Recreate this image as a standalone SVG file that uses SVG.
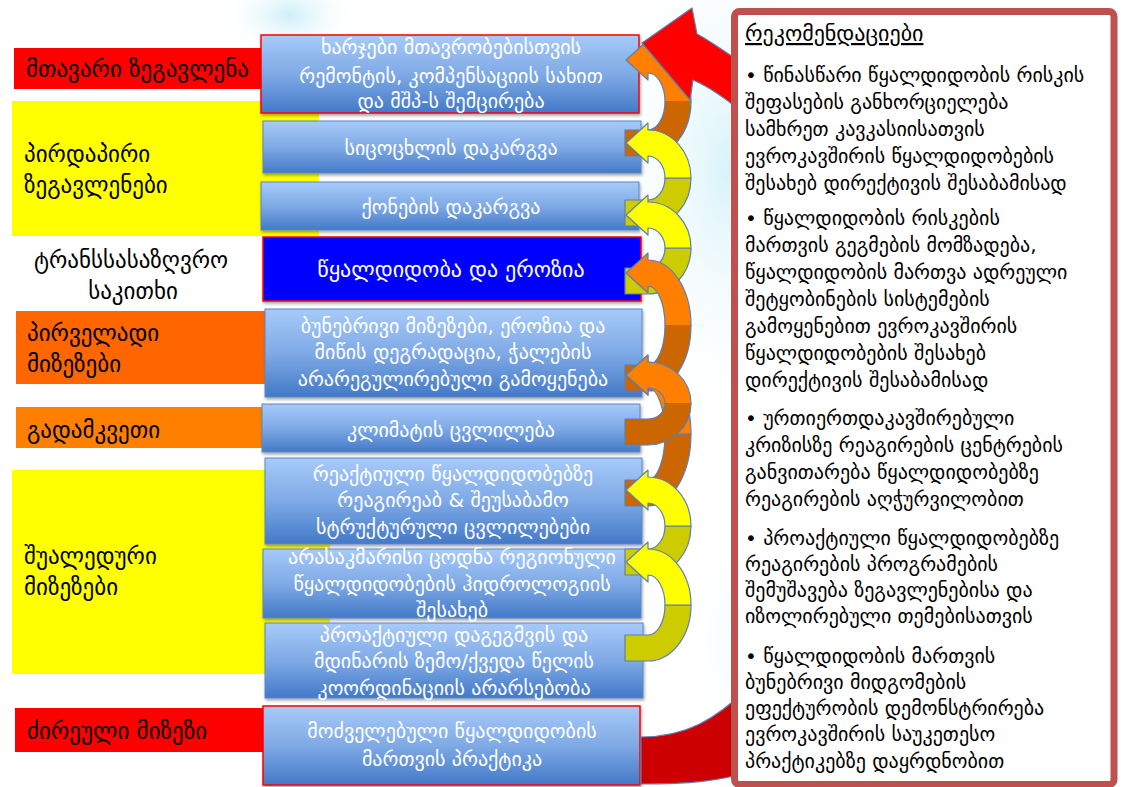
<svg xmlns="http://www.w3.org/2000/svg" width="1126" height="787" viewBox="0 0 1126 787">
<defs>
<linearGradient id="boxg" x1="0" y1="0" x2="0" y2="1">
<stop offset="0" stop-color="#A7CAF9"/>
<stop offset="0.5" stop-color="#7FAAE6"/>
<stop offset="1" stop-color="#4379C8"/>
</linearGradient>
<radialGradient id="glow" cx="0.5" cy="0.5" r="0.5">
<stop offset="0" stop-color="#CDEFF8"/>
<stop offset="1" stop-color="#FFFFFF" stop-opacity="0"/>
</radialGradient>
<filter id="sh" x="-5%" y="-10%" width="110%" height="130%">
<feDropShadow dx="1" dy="2" stdDeviation="1.5" flood-color="#000" flood-opacity="0.35"/>
</filter>
<style>
.lbl{font-family:"DejaVu Sans",sans-serif;font-size:23px;fill:#000}
.bx{fill:url(#boxg);stroke:#5A88C6;stroke-width:1;filter:url(#sh)}
.bxr{fill:url(#boxg);stroke:#FF0000;stroke-width:1.5;filter:url(#sh)}
.bt{font-family:"DejaVu Sans",sans-serif;font-size:20px;fill:#fff;text-anchor:middle}
.pt{font-family:"DejaVu Sans",sans-serif;font-size:20px;fill:#000}
.rb{stroke:#5B7FB5;stroke-width:1.2;stroke-linejoin:round}
.yf{fill:#FFFF00}.yb{fill:#CCCC00}.of{fill:#FF8000}.ob{fill:#CC6600}
</style>
</defs>
<rect width="1126" height="787" fill="#fff"/>
<ellipse cx="290" cy="15" rx="70" ry="45" fill="url(#glow)"/>
<ellipse cx="730" cy="170" rx="130" ry="260" fill="url(#glow)" opacity="0.8"/>
<ellipse cx="760" cy="640" rx="70" ry="120" fill="url(#glow)" opacity="0.6"/>

<g id="labels">
<g id="lbl-main"><rect x="14" y="48" width="248" height="41" fill="#FF0000"/><text class="lbl" x="26" y="77">მთავარი ზეგავლენა</text></g>
<g id="lbl-direct"><rect x="12" y="101" width="307" height="135" fill="#FFFF00"/><text class="lbl" x="24" y="162">პირდაპირი</text><text class="lbl" x="24" y="193">ზეგავლენები</text></g>
<g id="lbl-trans"><text class="lbl" x="131" y="268" text-anchor="middle">ტრანსსასაზღვრო</text><text class="lbl" x="133" y="299" text-anchor="middle">საკითხი</text></g>
<g id="lbl-primary"><rect x="16" y="311" width="249" height="73" fill="#FF6600"/><text class="lbl" x="27" y="341">პირველადი</text><text class="lbl" x="27" y="372">მიზეზები</text></g>
<g id="lbl-cross"><rect x="16" y="407" width="246" height="41" fill="#FF8000"/><text class="lbl" x="27" y="438">გადამკვეთი</text></g>
<g id="lbl-inter"><rect x="12" y="470" width="318" height="204" fill="#FFFF00"/><text class="lbl" x="24" y="564">შუალედური</text><text class="lbl" x="24" y="595">მიზეზები</text></g>
<g id="lbl-root"><rect x="15" y="708" width="249" height="44" fill="#FF0000"/><text class="lbl" x="27" y="739">ძირეული მიზეზი</text></g>
</g>

<g id="boxA"><rect class="bxr" x="261" y="35" width="378" height="78"/><text class="bt" x="451" y="54">ხარჯები მთავრობებისთვის</text><text class="bt" x="451" y="83">რემონტის, კომპენსაციის სახით</text><text class="bt" x="451" y="108">და მშპ-ს შემცირება</text></g>
<g id="boxB"><rect class="bx" x="263" y="121" width="378" height="52"/><text class="bt" x="451" y="155">სიცოცხლის დაკარგვა</text></g>
<g id="boxC"><rect class="bx" x="261" y="182" width="378" height="48"/><text class="bt" x="451" y="214">ქონების დაკარგვა</text></g>
<g id="boxD"><rect x="263" y="237" width="378" height="64" fill="#0000FF" stroke="#FF0000" stroke-width="1.5" filter="url(#sh)"/><text class="bt" x="451" y="277" style="font-size:22px">წყალდიდობა და ეროზია</text></g>
<g id="boxE"><rect class="bx" x="265" y="309" width="377" height="88"/><text class="bt" x="453" y="333">ბუნებრივი მიზეზები, ეროზია და</text><text class="bt" x="453" y="359">მიწის დეგრადაცია, ჭალების</text><text class="bt" x="453" y="386">არარეგულირებული გამოყენება</text></g>
<g id="boxF"><rect class="bx" x="262" y="404" width="378" height="48"/><text class="bt" x="451" y="437">კლიმატის ცვლილება</text></g>
<g id="boxG"><rect class="bx" x="265" y="458" width="377" height="86"/><text class="bt" x="453" y="481">რეაქტიული წყალდიდობებზე</text><text class="bt" x="453" y="507">რეაგირეაბ &amp; შეუსაბამო</text><text class="bt" x="453" y="534">სტრუქტურული ცვლილებები</text></g>
<g id="boxH"><rect class="bx" x="263" y="549" width="378" height="69"/><text class="bt" x="452" y="564">არასაკმარისი ცოდნა რეგიონული</text><text class="bt" x="452" y="591">წყალდიდობების ჰიდროლოგიის</text><text class="bt" x="452" y="617">შესახებ</text></g>
<g id="boxI"><rect class="bx" x="265" y="623" width="378" height="75"/><text class="bt" x="454" y="642">პროაქტიული დაგეგმვის და</text><text class="bt" x="454" y="668">მდინარის ზემო/ქვედა წელის</text><text class="bt" x="454" y="695">კოორდინაციის არარსებობა</text></g>
<g id="boxJ"><rect class="bxr" x="263" y="706" width="377" height="79"/><text class="bt" x="452" y="738">მოძველებული წყალდიდობის</text><text class="bt" x="452" y="766">მართვის პრაქტიკა</text></g>

<g id="connectors">
<g id="arrow-B-A"><path class="rb ob" d="M 691 101.5 A 43 54.5 0 0 1 648 156 L 625 156 L 625 130 L 648 130 A 17 28.5 0 0 0 665 101.5 Z"/><path class="rb of" d="M 691 101.5 A 43 54.5 0 0 0 648 47 L 648 40 L 626 60 L 648 80 L 648 73 A 17 28.5 0 0 1 665 101.5 Z"/></g>
<g id="arrow-C-B"><path class="rb yb" d="M 691 178 A 43 48 0 0 1 648 226 L 625 226 L 625 200 L 648 200 A 17 22 0 0 0 665 178 Z"/><path class="rb yf" d="M 691 178 A 43 48 0 0 0 648 130 L 648 123 L 626 143 L 648 163 L 648 156 A 17 22 0 0 1 665 178 Z"/></g>
<g id="arrow-D-C"><path class="rb yb" d="M 691 248 A 43 46 0 0 1 648 294 L 625 294 L 625 268 L 648 268 A 17 20 0 0 0 665 248 Z"/><path class="rb yf" d="M 691 248 A 43 46 0 0 0 648 202 L 648 195 L 626 215 L 648 235 L 648 228 A 17 20 0 0 1 665 248 Z"/></g>
<g id="arrow-E-D"><path class="rb ob" d="M 691 325.5 A 43 65.5 0 0 1 648 391 L 625 391 L 625 365 L 648 365 A 17 39.5 0 0 0 665 325.5 Z"/><path class="rb of" d="M 691 325.5 A 43 65.5 0 0 0 648 260 L 648 253 L 626 273 L 648 293 L 648 286 A 17 39.5 0 0 1 665 325.5 Z"/></g>
<g id="arrow-G-E"><path class="rb ob" d="M 691 434 A 43 72 0 0 1 648 506 L 625 506 L 625 480 L 648 480 A 17 46 0 0 0 665 434 Z"/><path class="rb of" d="M 691 434 A 43 72 0 0 0 648 362 L 648 355 L 626 375 L 648 395 L 648 388 A 17 46 0 0 1 665 434 Z"/></g>
<g id="arrow-F-E"><path class="rb ob" d="M 691 403.5 A 43 41.5 0 0 1 648 445 L 625 445 L 625 419 L 648 419 A 17 15.5 0 0 0 665 403.5 Z"/><path class="rb of" d="M 691 403.5 A 43 41.5 0 0 0 648 362 L 648 355 L 626 375 L 648 395 L 648 388 A 17 15.5 0 0 1 665 403.5 Z"/></g>
<g id="arrow-H-G"><path class="rb yb" d="M 691 526 A 43 49 0 0 1 648 575 L 625 575 L 625 549 L 648 549 A 17 23 0 0 0 665 526 Z"/><path class="rb yf" d="M 691 526 A 43 49 0 0 0 648 477 L 648 470 L 626 490 L 648 510 L 648 503 A 17 23 0 0 1 665 526 Z"/></g>
<g id="arrow-I-H"><path class="rb yb" d="M 691 605 A 43 56 0 0 1 648 661 L 625 661 L 625 635 L 648 635 A 17 30 0 0 0 665 605 Z"/><path class="rb yf" d="M 691 605 A 43 56 0 0 0 648 549 L 648 542 L 626 562 L 648 582 L 648 575 A 17 30 0 0 1 665 605 Z"/></g>
<g id="arrow-J-A"><path class="rb" fill="#CC0000" d="M 641 737 C 685 737 715 720 748 688 L 748 772 C 720 781 690 784 641 784 Z"/><path class="rb" fill="#FF0000" d="M 642 43 L 692 8 L 697 34 C 712 42 725 52 748 67 L 748 117 C 728 100 712 88 693 80 L 690 100 Z"/></g>
</g>

<g id="panel">
<rect x="734.5" y="11.5" width="379.5" height="773" rx="5" fill="#fff" stroke="#C0504D" stroke-width="7"/>
<text class="pt" x="745" y="41" style="font-size:22px;text-decoration:underline">რეკომენდაციები</text>
<text class="pt" x="745" y="82">• წინასწარი წყალდიდობის რისკის</text>
<text class="pt" x="745" y="109">შეფასების განხორციელება</text>
<text class="pt" x="745" y="136">სამხრეთ კავკასიისათვის</text>
<text class="pt" x="745" y="163">ევროკავშირის წყალდიდობების</text>
<text class="pt" x="745" y="190">შესახებ დირექტივის შესაბამისად</text>
<text class="pt" x="745" y="225">• წყალდიდობის რისკების</text>
<text class="pt" x="745" y="252">მართვის გეგმების მომზადება,</text>
<text class="pt" x="745" y="279">წყალდიდობის მართვა ადრეული</text>
<text class="pt" x="745" y="306">შეტყობინების სისტემების</text>
<text class="pt" x="745" y="333">გამოყენებით ევროკავშირის</text>
<text class="pt" x="745" y="360">წყალდიდობების შესახებ</text>
<text class="pt" x="745" y="387">დირექტივის შესაბამისად</text>
<text class="pt" x="745" y="425">• ურთიერთდაკავშირებული</text>
<text class="pt" x="745" y="452">კრიზისზე რეაგირების ცენტრების</text>
<text class="pt" x="745" y="479">განვითარება წყალდიდობებზე</text>
<text class="pt" x="745" y="506">რეაგირების აღჭურვილობით</text>
<text class="pt" x="745" y="545">• პროაქტიული წყალდიდობებზე</text>
<text class="pt" x="745" y="571">რეაგირების პროგრამების</text>
<text class="pt" x="745" y="597">შემუშავება ზეგავლენებისა და</text>
<text class="pt" x="745" y="623">იზოლირებული თემებისათვის</text>
<text class="pt" x="745" y="663">• წყალდიდობის მართვის</text>
<text class="pt" x="745" y="689">ბუნებრივი მიდგომების</text>
<text class="pt" x="745" y="715">ეფექტურობის დემონსტრირება</text>
<text class="pt" x="745" y="741">ევროკავშირის საუკეთესო</text>
<text class="pt" x="745" y="768">პრაქტიკებზე დაყრდნობით</text>
</g>
</svg>
